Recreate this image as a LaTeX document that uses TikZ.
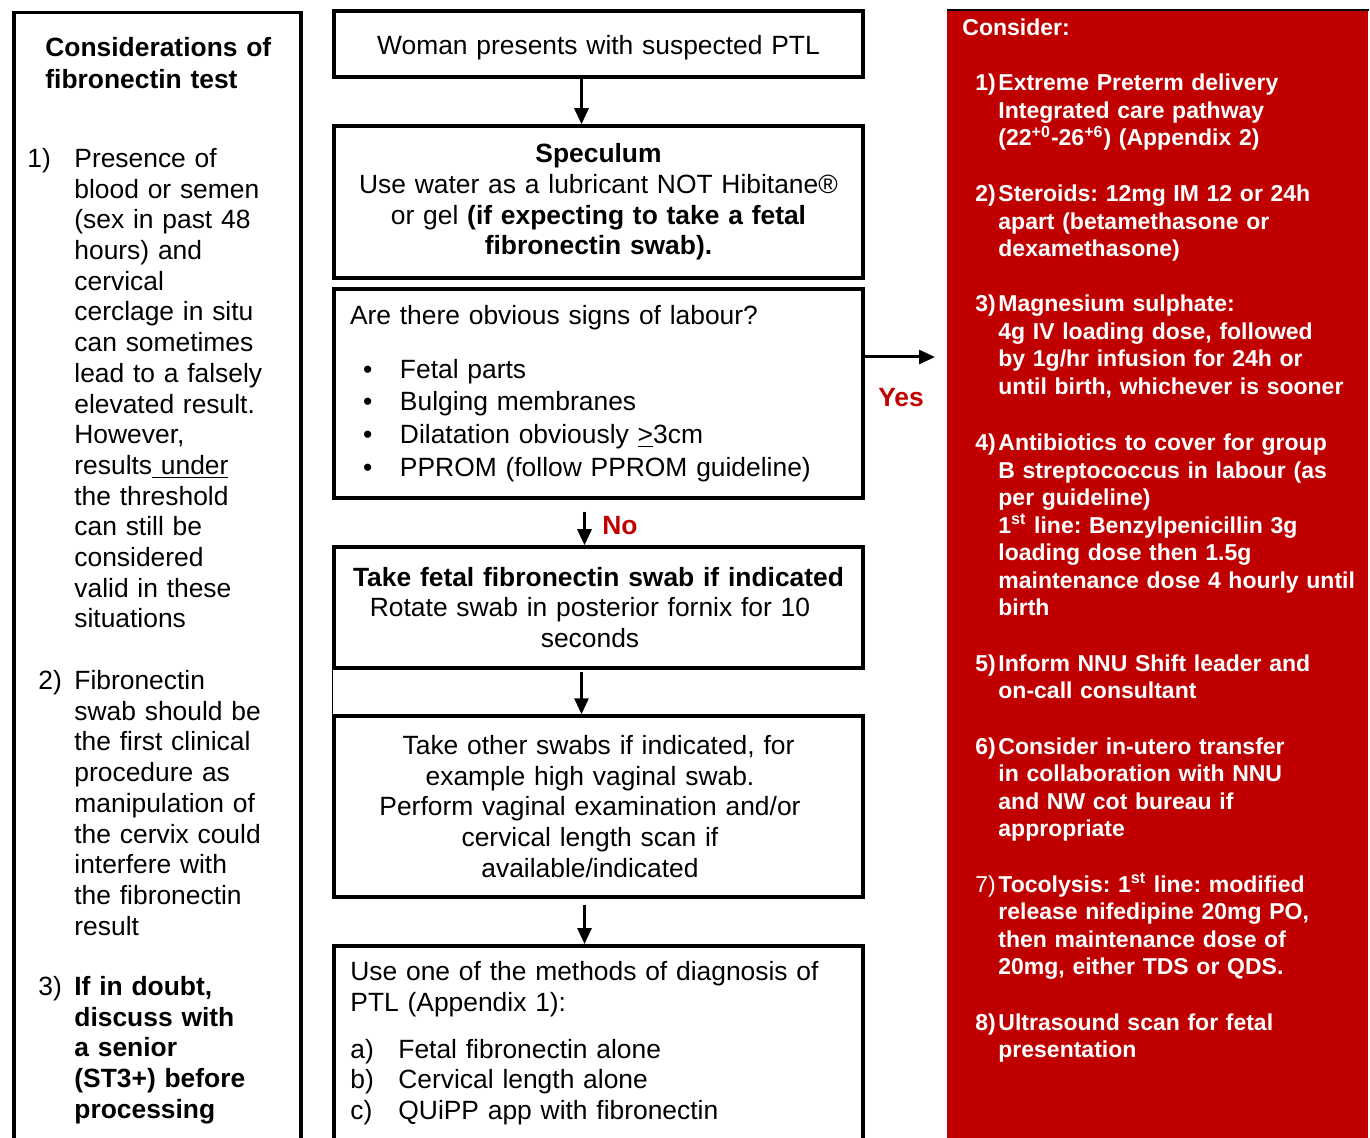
\documentclass[tikz,border=0pt]{standalone}
\usepackage{fontspec}
\setmainfont{Liberation Sans}
\usetikzlibrary{calc}
\usetikzlibrary{arrows.meta}
\definecolor{ptlred}{HTML}{C00000}
\newcommand{\bul}{\hspace*{6.5pt}\makebox[18.5pt][l]{\textbullet}}
\newcommand{\trail}{\hbox to 8.5pt{}}
\frenchspacing

\begin{document}
\begin{tikzpicture}[x=0.5pt,y=-0.5pt,inner sep=0pt,
  txt/.style={font=\fontsize{13.2}{15.35}\selectfont},
  txtbf/.style={font=\fontsize{13.2}{15.35}\selectfont\bfseries},
  redtxt/.style={font=\fontsize{11.5}{13.75}\selectfont\bfseries,text=white,anchor=base west,align=left},
  flowbox/.style={draw,line width=1.75pt,txt,minimum width=264.5pt,inner xsep=8pt,text width=248.5pt},
  flowarrow/.style={line width=1.5pt,-{Triangle[length=8pt,width=7pt]}}]
\useasboundingbox (0,0) rectangle (1370,1138);
\clip (0,0) rectangle (1370,1138);

% left column
\node[draw,line width=1.75pt,anchor=north west,minimum width=143.5pt,minimum height=600pt] (notes) at (12,11) {};
\node[anchor=base west,text width=125pt,align=left,font={\fontsize{13.2}{15.8}\selectfont\bfseries}] (notestitle) at (45,57) {Considerations of\\fibronectin test};
\node[txt,anchor=base west] (note1num) at (27,167.5) {1)};
\node[txt,anchor=base west,text width=115pt,align=left] (note1) at (74,167.5) {Presence of\\blood or semen\\(sex in past 48\\hours) and\\cervical\\cerclage in situ\\can sometimes\\lead to a falsely\\elevated result.\\However,\\results\underline{\ under}\\the threshold\\can still be\\considered\\valid in these\\situations};
\node[txt,anchor=base west] (note2num) at (38,689.5) {2)};
\node[txt,anchor=base west,text width=115pt,align=left] (note2) at (74,689.5) {Fibronectin\\swab should be\\the first clinical\\procedure as\\manipulation of\\the cervix could\\interfere with\\the fibronectin\\result};
\node[txt,anchor=base west] (note3num) at (38,995.5) {3)};
\node[txtbf,anchor=base west,text width=115pt,align=left] (note3) at (74,995.5) {If in doubt,\\discuss with\\a senior\\(ST3+) before\\processing};

% flow chart
\node[flowbox,minimum height=33pt,align=center] (woman) at (598.5,44) {\rule{0pt}{13.6pt}Woman presents with suspected PTL};
\node[flowbox,minimum height=76pt,align=center] (speculum) at (598.5,202) {\textbf{Speculum}\\Use water as a lubricant NOT Hibitane®\\or gel \textbf{(if expecting to take a fetal}\\\textbf{fibronectin swab).}};
\node[flowbox,minimum height=104.5pt,align=left] (signs) at (598.5,393.5) {Are there obvious signs of labour?\\[11.65pt]
  \bul Fetal parts\\[1pt]
  \bul Bulging membranes\\[1pt]
  \bul Dilatation obviously \underline{>}3cm\\[1pt]
  \bul PPROM (follow PPROM guideline)};
\node[flowbox,minimum height=60.5pt,align=center] (fibswab) at (598.5,607.5) {\textbf{Take fetal fibronectin swab if indicated}\\Rotate swab in posterior fornix for 10\trail\\seconds\trail};
\node[flowbox,minimum height=90.5pt,align=center] (otherswabs) at (598.5,806.5) {Take other swabs if indicated, for\\example high vaginal swab.\trail\\Perform vaginal examination and/or\trail\\cervical length scan if\trail\\available/indicated\trail};
\node[flowbox,anchor=north,minimum height=220pt] (methods) at (598.5,944) {};
\node[txt,anchor=base west,text width=248pt,align=left] (methodstext) at (350,980.5) {Use one of the methods of diagnosis of\\PTL (Appendix 1):\\[8.15pt]
  \makebox[24pt][l]{a)}Fetal fibronectin alone\\
  \makebox[24pt][l]{b)}Cervical length alone\\
  \makebox[24pt][l]{c)}QUiPP app with fibronectin};

\draw[flowarrow] ($(woman.south)+(-17,0)$) -- ($(speculum.north)+(-17,0)$);
\draw[flowarrow] ($(signs.south)+(-14,12)$) -- ($(fibswab.north)+(-14,0)$);
\draw[flowarrow] ($(fibswab.south)+(-17,2)$) -- ($(otherswabs.north)+(-17,0)$);
\draw[flowarrow] ($(otherswabs.south)+(-14,6)$) -- ($(methods.north)+(-14,0)$);
\draw[line width=0.75pt] (fibswab.south west) -- (otherswabs.north west);
\node[txtbf,text=ptlred,anchor=base west] (no) at (602,535) {No};

% right column
\node[fill=ptlred,anchor=north west,minimum width=210.5pt,minimum height=570pt] (consider) at (947,10) {};
\draw[line width=0.8pt] (consider.north west) -- (consider.north east);
\coordinate (yesend) at (935,357);
\draw[flowarrow] (signs.east |- yesend) -- (yesend);
\node[txtbf,text=ptlred,anchor=base] (yes) at (901,407) {Yes};

\node[redtxt] (considertitle) at (962,36) {Consider:};
\node[redtxt] (r1num) at (975,91) {1)};
\node[redtxt,text width=185pt] (r1) at (998,91) {Extreme Preterm delivery\\Integrated care pathway\\(22\textsuperscript{+0}-26\textsuperscript{+6}) (Appendix 2)};
\node[redtxt] (r2num) at (975,202) {2)};
\node[redtxt,text width=185pt] (r2) at (998,202) {Steroids: 12mg IM 12 or 24h\\apart (betamethasone or\\dexamethasone)};
\node[redtxt] (r3num) at (975,312) {3)};
\node[redtxt,text width=185pt] (r3) at (998,312) {Magnesium sulphate:\\4g IV loading dose, followed\\by 1g/hr infusion for 24h or\\until birth, whichever is sooner};
\node[redtxt] (r4num) at (975,451) {4)};
\node[redtxt,text width=185pt] (r4) at (998,451) {Antibiotics to cover for group\\B streptococcus in labour (as\\per guideline)\\1\textsuperscript{st} line: Benzylpenicillin 3g\\loading dose then 1.5g\\maintenance dose 4 hourly until\\birth};
\node[redtxt] (r5num) at (975,671) {5)};
\node[redtxt,text width=185pt] (r5) at (998,671) {Inform NNU Shift leader and\\on-call consultant};
\node[redtxt] (r6num) at (975,754) {6)};
\node[redtxt,text width=185pt] (r6) at (998,754) {Consider in-utero transfer\\in collaboration with NNU\\and NW cot bureau if\\appropriate};
\node[redtxt,font={\fontsize{11.5}{13.75}\selectfont}] (r7num) at (975,892) {7)};
\node[redtxt,text width=185pt] (r7) at (998,892) {Tocolysis: 1\textsuperscript{st} line: modified\\release nifedipine 20mg PO,\\then maintenance dose of\\20mg, either TDS or QDS.};
\node[redtxt] (r8num) at (975,1030) {8)};
\node[redtxt,text width=185pt] (r8) at (998,1030) {Ultrasound scan for fetal\\presentation};
\end{tikzpicture}
\end{document}
